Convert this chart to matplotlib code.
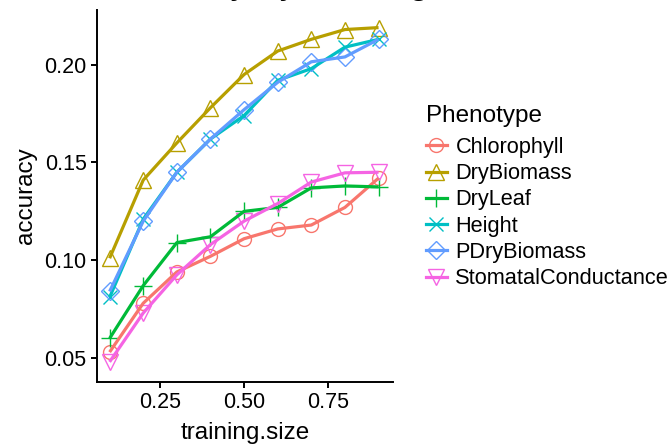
import matplotlib
matplotlib.use("Agg")
import matplotlib.pyplot as plt

plt.rcParams["font.family"] = ["Liberation Sans", "DejaVu Sans"]

# ---------------------------------------------------------------------------
# data
# ---------------------------------------------------------------------------
training_size = [0.1, 0.2, 0.3, 0.4, 0.5, 0.6, 0.7, 0.8, 0.9]

chlorophyll = [0.053, 0.078, 0.094, 0.102, 0.111, 0.116, 0.118, 0.127, 0.142]
dry_biomass = [0.101, 0.141, 0.160, 0.178, 0.195, 0.207, 0.213, 0.218, 0.219]
dry_leaf = [0.060, 0.087, 0.109, 0.112, 0.125, 0.127, 0.137, 0.138, 0.1375]
height = [0.081, 0.121, 0.145, 0.162, 0.174, 0.192, 0.198, 0.209, 0.213]
pdry_biomass = [0.084, 0.120, 0.145, 0.162, 0.177, 0.191, 0.2015, 0.204, 0.213]
stomatal = [0.048, 0.073, 0.0925, 0.108, 0.120, 0.129, 0.140, 0.1447, 0.145]

phenotypes = ["Chlorophyll", "DryBiomass", "DryLeaf", "Height",
              "PDryBiomass", "StomatalConductance"]
series = [chlorophyll, dry_biomass, dry_leaf, height, pdry_biomass, stomatal]

COLORS = ["#F8766D", "#B79F00", "#00BA38", "#00BFC4", "#619CFF", "#F564E3"]
MARKERS = ["o", "^", "+", "x", "D", "v"]
MSIZES = [10, 11, 13, 10, 9, 11]

fig = plt.figure(figsize=(6.72, 4.46), dpi=100)
ax = fig.add_axes([97 / 672, 64 / 446, 296 / 672, 372 / 446])

handles = []
for name, vals, col, mk, ms in zip(phenotypes, series, COLORS, MARKERS, MSIZES):
    ax.plot(training_size, vals, linestyle="none", marker=mk, markersize=ms,
            markerfacecolor="none", markeredgecolor=col, markeredgewidth=1.0,
            zorder=2, clip_on=False)
    ax.plot(training_size, vals, color=col, linewidth=2.3, zorder=3,
            solid_capstyle="butt")
    h, = ax.plot([], [], color=col, linewidth=2.3, marker=mk, markersize=ms,
                 markerfacecolor="none", markeredgecolor=col, markeredgewidth=1.0,
                 label=name)
    handles.append(h)

ax.set_xlim(0.0625, 0.943)
ax.set_ylim(0.0377, 0.228)
ax.set_xticks([0.25, 0.50, 0.75])
ax.set_xticklabels(["0.25", "0.50", "0.75"])
ax.set_yticks([0.05, 0.10, 0.15, 0.20])
ax.set_yticklabels(["0.05", "0.10", "0.15", "0.20"])

for side in ("top", "right"):
    ax.spines[side].set_visible(False)
for side in ("left", "bottom"):
    ax.spines[side].set_linewidth(1.4)
ax.tick_params(direction="out", length=4.5, width=1.4, labelsize=15.5,
               colors="black", pad=3)

ax.set_xlabel("training.size", fontsize=17.5, labelpad=6)
ax.set_ylabel("accuracy", fontsize=17.5, labelpad=5)

# legend title drawn on its own so the gap to the keys can be set
fig.text(426 / 672, 1 - 122 / 446, "Phenotype", fontsize=17.5,
         ha="left", va="baseline")
fig.legend(handles=handles, loc="upper left",
           bbox_to_anchor=(426 / 672, 1 - 137 / 446),
           frameon=False, fontsize=15.7, handlelength=0.95, handletextpad=0.4,
           labelspacing=0.24, borderpad=0, borderaxespad=0)

# title sits mostly above the canvas, only descenders show
fig.text(97 / 672, 1 + 7 / 446, "Accuracy by training size",
         fontsize=26.6, ha="left", va="baseline")

fig.savefig("out.png", dpi=100)
